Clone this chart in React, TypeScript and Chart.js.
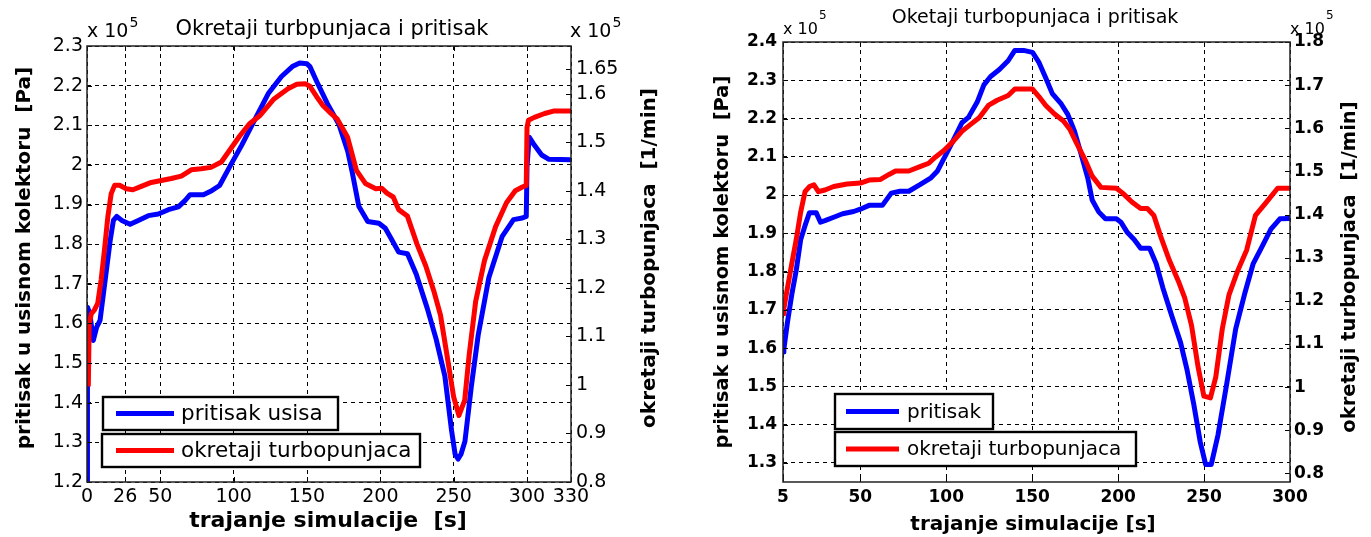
import React, { useEffect, useRef } from 'react';
import { Chart, registerables } from 'chart.js';
Chart.register(...registerables);

const FONT = '"DejaVu Sans", "Liberation Sans", sans-serif';

// ---------- Left chart data ----------
const leftTitle = 'Okretaji turbpunjaca i pritisak';
const leftXTitle = 'trajanje simulacije  [s]';
const leftYTitle = 'pritisak u usisnom kolektoru  [Pa]';
const leftY1Title = 'okretaji turbopunjaca  [1/min]';
const leftLegend = ['pritisak usisa', 'okretaji turbopunjaca'];
const leftXTicks = [0, 26, 50, 100, 150, 200, 250, 300, 330];
const leftYTicks = [1.2, 1.3, 1.4, 1.5, 1.6, 1.7, 1.8, 1.9, 2.0, 2.1, 2.2, 2.3];
const leftY1Ticks = [0.8, 0.9, 1.0, 1.1, 1.2, 1.3, 1.4, 1.5, 1.6, 1.65];

const leftTimeBlue = [0, 0.3, 2, 4.3, 6.6, 8.9, 11.2, 13.5, 15.8, 18, 20.3, 23.7, 29.4, 35, 41.8, 48.6, 55.5, 62.3, 66.8, 70.3, 79.4, 85, 90.4, 98, 105.5, 114.5, 123.6, 132.6, 140, 145, 150, 152, 156.7, 164, 171.8, 177.8, 180.8, 185.3, 191.4, 199, 203.4, 208, 212.5, 218.5, 224.5, 232, 238, 244, 248.6, 251, 253, 255, 257.7, 262, 266.7, 274, 283, 290.8, 296.8, 299.5, 300, 301.5, 305, 310, 315, 330];
const leftPressure = [1.2, 1.641, 1.624, 1.557, 1.591, 1.608, 1.675, 1.742, 1.809, 1.86, 1.87, 1.86, 1.85, 1.86, 1.872, 1.876, 1.887, 1.894, 1.91, 1.925, 1.925, 1.935, 1.948, 2.0, 2.05, 2.115, 2.18, 2.223, 2.248, 2.257, 2.255, 2.248, 2.21, 2.154, 2.102, 2.034, 1.982, 1.896, 1.857, 1.853, 1.84, 1.81, 1.78, 1.776, 1.724, 1.638, 1.561, 1.467, 1.329, 1.27, 1.258, 1.27, 1.303, 1.44, 1.57, 1.716, 1.819, 1.862, 1.866, 1.87, 1.995, 2.07, 2.05, 2.025, 2.014, 2.013];

const leftTimeRed = [0.9, 1.5, 3, 5, 7.3, 9.6, 11.9, 14.2, 16.5, 18.8, 22.2, 26.7, 31.3, 37, 43.8, 50.6, 57.5, 64.3, 71.1, 77.9, 84.5, 91.6, 98.8, 104, 110.8, 118, 127.5, 137, 143, 149, 152, 156.7, 161, 165, 170.5, 177.7, 183.7, 189.8, 196.9, 201, 204.5, 208.8, 212.5, 218.4, 225, 231, 236.5, 241, 245.5, 250, 253.6, 257.5, 260.5, 265, 271, 278.6, 286, 292, 296.5, 299.5, 300, 301, 305, 312, 318, 330];
const leftSpeed = [0.997, 1.127, 1.147, 1.154, 1.168, 1.216, 1.278, 1.346, 1.394, 1.411, 1.411, 1.404, 1.402, 1.409, 1.417, 1.421, 1.425, 1.43, 1.443, 1.445, 1.448, 1.459, 1.49, 1.512, 1.538, 1.555, 1.589, 1.61, 1.619, 1.62, 1.615, 1.593, 1.575, 1.563, 1.548, 1.51, 1.442, 1.415, 1.404, 1.405, 1.395, 1.387, 1.361, 1.348, 1.29, 1.245, 1.193, 1.144, 1.06, 0.975, 0.937, 0.968, 1.06, 1.172, 1.256, 1.326, 1.375, 1.4, 1.407, 1.411, 1.53, 1.545, 1.551, 1.559, 1.564, 1.564];

// ---------- Right chart data ----------
const rightTitle = 'Oketaji turbopunjaca i pritisak';
const rightXTitle = 'trajanje simulacije [s]';
const rightYTitle = 'pritisak u usisnom kolektoru  [Pa]';
const rightY1Title = 'okretaji turbopunjaca  [1/min]';
const rightLegend = ['pritisak', 'okretaji turbopunjaca'];
const rightXTicks = [5, 50, 100, 150, 200, 250, 300];
const rightYTicks = [1.3, 1.4, 1.5, 1.6, 1.7, 1.8, 1.9, 2.0, 2.1, 2.2, 2.3, 2.4];
const rightY1Ticks = [0.8, 0.9, 1.0, 1.1, 1.2, 1.3, 1.4, 1.5, 1.6, 1.7, 1.8];

const rightTimeBlue = [5, 5.5, 7.6, 10.1, 12.7, 15.3, 17.8, 20.4, 24.3, 26.8, 29.4, 34.5, 39.7, 46.1, 50, 55.1, 62.8, 68, 73.1, 78.2, 84.7, 91.1, 94.9, 100.1, 105.2, 109.1, 112.9, 118, 121.9, 125.8, 130.9, 136, 139.9, 145, 150.2, 154, 157.9, 161.7, 166.9, 170.7, 174.6, 178.4, 182.3, 184.9, 188.7, 192.6, 199, 201.6, 205.4, 209.3, 213.1, 218.3, 222.1, 226, 231.1, 236.3, 240.1, 244, 247.8, 250.9, 254.2, 258.1, 263.2, 268.4, 273.5, 278.6, 283.8, 288.9, 294.1, 300];
const rightPressure = [1.59, 1.597, 1.668, 1.74, 1.803, 1.884, 1.92, 1.954, 1.954, 1.929, 1.933, 1.942, 1.951, 1.957, 1.963, 1.973, 1.973, 2.005, 2.01, 2.01, 2.027, 2.045, 2.063, 2.108, 2.153, 2.189, 2.203, 2.243, 2.288, 2.31, 2.328, 2.351, 2.378, 2.378, 2.373, 2.346, 2.306, 2.265, 2.238, 2.211, 2.167, 2.108, 2.045, 1.987, 1.956, 1.938, 1.938, 1.929, 1.902, 1.884, 1.861, 1.861, 1.821, 1.758, 1.686, 1.615, 1.543, 1.453, 1.354, 1.296, 1.296, 1.373, 1.507, 1.65, 1.74, 1.821, 1.866, 1.911, 1.938, 1.939];

const rightTimeRed = [5, 5.5, 7.6, 10.1, 12.7, 15.3, 17.8, 20.4, 23, 25.6, 29.4, 34.5, 42.3, 50, 55.1, 61.5, 66.7, 70.5, 78.2, 84.7, 89.8, 93.6, 98.8, 103.9, 109.1, 114.2, 119.3, 124.5, 129.6, 136, 139.9, 150.2, 154, 157.9, 163, 168.2, 172, 175.9, 181, 184.9, 190, 199, 202.8, 208, 213.1, 217, 220.8, 224.7, 229.8, 235, 238.8, 242.7, 246.5, 249.9, 253.7, 256.8, 260.6, 264.5, 269.6, 274.8, 279.9, 286.3, 292.8, 300];
const rightSpeed = [1.17, 1.182, 1.23, 1.286, 1.342, 1.406, 1.453, 1.465, 1.469, 1.453, 1.457, 1.465, 1.471, 1.473, 1.48, 1.481, 1.493, 1.501, 1.501, 1.511, 1.519, 1.533, 1.549, 1.569, 1.593, 1.609, 1.625, 1.653, 1.665, 1.676, 1.691, 1.691, 1.673, 1.653, 1.633, 1.617, 1.597, 1.565, 1.525, 1.489, 1.463, 1.461, 1.449, 1.429, 1.414, 1.414, 1.398, 1.35, 1.294, 1.246, 1.206, 1.143, 1.047, 0.979, 0.975, 1.023, 1.135, 1.214, 1.27, 1.318, 1.398, 1.429, 1.461, 1.461];

const fmt = (v: number) => String(parseFloat(Number(v).toFixed(2)));
const pts = (xs: number[], ys: number[]) => xs.map((x, i) => ({ x, y: ys[i] }));

type Spec = {
  width: number;
  area: { left: number; right: number; top: number; bottom: number };
  xRange: [number, number];
  yRange: [number, number];
  y1Range: [number, number];
  xTicks: number[];
  yTicks: number[];
  y1Ticks: number[];
  blueX: number[]; blueY: number[];
  redX: number[]; redY: number[];
  tickFont: { size: number; weight: string };
  tickPad: { x: number; y: number; y1: number };
  title: { text: string; x: number; y: number; size: number; weight: string };
  axisTitleSize: number;
  xTitle: { text: string; x: number; y: number; size: number };
  yTitle: { text: string; x: number; y: number };
  y1Title: { text: string; x: number; y: number };
  expo: { size: number; supSize: number; y: number; supY: number; leftX: number; rightX: number };
  legend: { labels: string[]; size: number; boxes: number[][]; lineX: [number, number]; textX: number };
  lineWidth: number;
};

function makePlugin(s: Spec) {
  return {
    id: 'decor',
    afterDraw(chart: any) {
      const ctx = chart.ctx as CanvasRenderingContext2D;
      const a = chart.chartArea;
      const sx = chart.scales.x, sy = chart.scales.y, sy1 = chart.scales.y1;
      ctx.save();
      // inward ticks
      ctx.strokeStyle = '#000';
      ctx.lineWidth = 1;
      ctx.setLineDash([]);
      ctx.beginPath();
      const tl = 5;
      s.xTicks.forEach((v) => {
        const px = Math.round(sx.getPixelForValue(v)) + 0.5;
        ctx.moveTo(px, a.bottom); ctx.lineTo(px, a.bottom - tl);
        ctx.moveTo(px, a.top); ctx.lineTo(px, a.top + tl);
      });
      s.yTicks.forEach((v) => {
        const py = Math.round(sy.getPixelForValue(v)) + 0.5;
        ctx.moveTo(a.left, py); ctx.lineTo(a.left + tl, py);
      });
      s.y1Ticks.forEach((v) => {
        const py = Math.round(sy1.getPixelForValue(v)) + 0.5;
        ctx.moveTo(a.right, py); ctx.lineTo(a.right - tl, py);
      });
      ctx.stroke();
      // box
      ctx.lineWidth = 1.5;
      ctx.strokeStyle = '#222';
      ctx.strokeRect(a.left, a.top, a.right - a.left, a.bottom - a.top);

      // legends
      const L = s.legend;
      const colors = ['#0000ff', '#ff0000'];
      L.boxes.forEach((b, i) => {
        const [x0, y0, x1, y1] = b;
        ctx.fillStyle = '#fff';
        ctx.fillRect(x0, y0, x1 - x0, y1 - y0);
        ctx.strokeStyle = '#000';
        ctx.lineWidth = 2.4;
        ctx.strokeRect(x0, y0, x1 - x0, y1 - y0);
        const cy = (y0 + y1) / 2;
        ctx.strokeStyle = colors[i];
        ctx.lineWidth = s.lineWidth;
        ctx.beginPath();
        ctx.moveTo(L.lineX[0], cy); ctx.lineTo(L.lineX[1], cy);
        ctx.stroke();
        ctx.fillStyle = '#000';
        ctx.font = `normal ${L.size}px ${FONT}`;
        ctx.textAlign = 'left';
        ctx.textBaseline = 'middle';
        ctx.fillText(L.labels[i], L.textX, cy + 1);
      });

      ctx.fillStyle = '#000';
      // title
      ctx.font = `${s.title.weight} ${s.title.size}px ${FONT}`;
      ctx.textAlign = 'center';
      ctx.textBaseline = 'alphabetic';
      ctx.fillText(s.title.text, s.title.x, s.title.y);
      // exponents
      const E = s.expo;
      [E.leftX, E.rightX].forEach((ex) => {
        ctx.font = `normal ${E.size}px ${FONT}`;
        ctx.textAlign = 'left';
        ctx.textBaseline = 'alphabetic';
        ctx.fillText('x 10', ex, E.y);
        const w = ctx.measureText('x 10').width;
        ctx.font = `normal ${E.supSize}px ${FONT}`;
        ctx.fillText('5', ex + w + 1, E.supY);
      });
      // x title
      ctx.font = `bold ${s.xTitle.size}px ${FONT}`;
      ctx.textAlign = 'center';
      ctx.textBaseline = 'middle';
      ctx.fillText(s.xTitle.text, s.xTitle.x, s.xTitle.y);
      // y titles (both rotated, reading bottom to top)
      ctx.font = `bold ${s.axisTitleSize}px ${FONT}`;
      [s.yTitle, s.y1Title].forEach((t) => {
        ctx.save();
        ctx.translate(t.x, t.y);
        ctx.rotate(-Math.PI / 2);
        ctx.textAlign = 'center';
        ctx.textBaseline = 'middle';
        ctx.fillText(t.text, 0, 0);
        ctx.restore();
      });
      ctx.restore();
    },
  };
}

function Panel({ spec, left }: { spec: Spec; left: number }) {
  const ref = useRef<HTMLCanvasElement | null>(null);
  useEffect(() => {
    const s = spec;
    const canvas = ref.current!;
    const H = 537;
    const tickFont = { family: FONT, size: s.tickFont.size, weight: s.tickFont.weight as any };
    const chart = new Chart(canvas, {
      type: 'line',
      data: {
        datasets: [
          {
            label: s.legend.labels[0],
            data: pts(s.blueX, s.blueY),
            borderColor: '#0000ff',
            backgroundColor: '#0000ff',
            borderWidth: s.lineWidth,
            pointRadius: 0,
            tension: 0,
            yAxisID: 'y',
            order: 1,
            borderJoinStyle: 'round',
          },
          {
            label: s.legend.labels[1],
            data: pts(s.redX, s.redY),
            borderColor: '#ff0000',
            backgroundColor: '#ff0000',
            borderWidth: s.lineWidth,
            pointRadius: 0,
            tension: 0,
            yAxisID: 'y1',
            order: 0,
            borderJoinStyle: 'round',
          },
        ],
      },
      options: {
        responsive: false,
        maintainAspectRatio: false,
        animation: false,
        events: [],
        layout: { padding: { top: s.area.top, left: 0, right: 0, bottom: 0 } },
        plugins: { legend: { display: false }, tooltip: { enabled: false }, title: { display: false } },
        scales: {
          x: {
            type: 'linear',
            position: 'bottom',
            min: s.xRange[0],
            max: s.xRange[1],
            afterBuildTicks: (ax: any) => { ax.ticks = s.xTicks.map((v) => ({ value: v })); },
            afterFit: (ax: any) => { ax.height = H - s.area.bottom; },
            grid: { color: '#000', lineWidth: 1, drawTicks: false },
            border: { display: false, dash: [4, 4] },
            ticks: { autoSkip: false, maxRotation: 0, minRotation: 0, padding: s.tickPad.x, color: '#000', font: tickFont, callback: (v: any) => fmt(v) },
          },
          y: {
            type: 'linear',
            position: 'left',
            min: s.yRange[0],
            max: s.yRange[1],
            afterBuildTicks: (ax: any) => { ax.ticks = s.yTicks.map((v) => ({ value: v })); },
            afterFit: (ax: any) => { ax.width = s.area.left; },
            grid: { color: '#000', lineWidth: 1, drawTicks: false },
            border: { display: false, dash: [4, 4] },
            ticks: { autoSkip: false, padding: s.tickPad.y, color: '#000', font: tickFont, callback: (v: any) => fmt(v) },
          },
          y1: {
            type: 'linear',
            position: 'right',
            min: s.y1Range[0],
            max: s.y1Range[1],
            afterBuildTicks: (ax: any) => { ax.ticks = s.y1Ticks.map((v) => ({ value: v })); },
            afterFit: (ax: any) => { ax.width = s.width - s.area.right; },
            grid: { drawOnChartArea: false, drawTicks: false },
            border: { display: false },
            ticks: { autoSkip: false, padding: s.tickPad.y1, color: '#000', font: tickFont, callback: (v: any) => fmt(v) },
          },
        },
      } as any,
      plugins: [makePlugin(s)],
    });
    return () => chart.destroy();
  }, [spec]);
  return (
    <canvas
      ref={ref}
      width={spec.width}
      height={537}
      style={{ position: 'absolute', left, top: 0, width: spec.width, height: 537 }}
    />
  );
}

const leftSpec: Spec = {
  width: 690,
  area: { left: 87, right: 571, top: 46, bottom: 482 },
  xRange: [0, 330],
  yRange: [1.2, 2.3],
  y1Range: [0.8, 1.698],
  xTicks: leftXTicks,
  yTicks: leftYTicks,
  y1Ticks: leftY1Ticks,
  blueX: leftTimeBlue, blueY: leftPressure,
  redX: leftTimeRed, redY: leftSpeed,
  tickFont: { size: 19, weight: 'normal' },
  tickPad: { x: 4, y: 4, y1: 5 },
  title: { text: leftTitle, x: 332, y: 35, size: 21, weight: 'normal' },
  axisTitleSize: 20,
  xTitle: { text: leftXTitle, x: 328, y: 521, size: 22 },
  yTitle: { text: leftYTitle, x: 25, y: 258 },
  y1Title: { text: leftY1Title, x: 650, y: 258 },
  expo: { size: 19, supSize: 14, y: 37, supY: 27, leftX: 87, rightX: 570 },
  legend: { labels: leftLegend, size: 21.5, boxes: [[103, 397, 338, 430], [102, 434, 420, 467]], lineX: [116, 174], textX: 181 },
  lineWidth: 5,
};

const rightSpec: Spec = {
  width: 681,
  area: { left: 93, right: 600, top: 42, bottom: 482 },
  xRange: [5, 300],
  yRange: [1.25, 2.4],
  y1Range: [0.78, 1.8],
  xTicks: rightXTicks,
  yTicks: rightYTicks,
  y1Ticks: rightY1Ticks,
  blueX: rightTimeBlue, blueY: rightPressure,
  redX: rightTimeRed, redY: rightSpeed,
  tickFont: { size: 17, weight: 'bold' },
  tickPad: { x: 5, y: 6, y1: 4 },
  title: { text: rightTitle, x: 345, y: 23, size: 19, weight: 'normal' },
  axisTitleSize: 19.5,
  xTitle: { text: rightXTitle, x: 343, y: 525, size: 20 },
  yTitle: { text: rightYTitle, x: 33, y: 262 },
  y1Title: { text: rightY1Title, x: 660, y: 267 },
  expo: { size: 16, supSize: 12, y: 34, supY: 19, leftX: 93, rightX: 600 },
  legend: { labels: rightLegend, size: 20, boxes: [[145, 394, 303, 429], [145, 432, 446, 466]], lineX: [156, 209], textX: 217 },
  lineWidth: 5,
};

export default function App() {
  return (
    <div style={{ position: 'absolute', left: 0, top: 0, width: 1371, height: 537, background: '#fff', overflow: 'hidden' }}>
      <Panel spec={leftSpec} left={0} />
      <Panel spec={rightSpec} left={690} />
    </div>
  );
}
